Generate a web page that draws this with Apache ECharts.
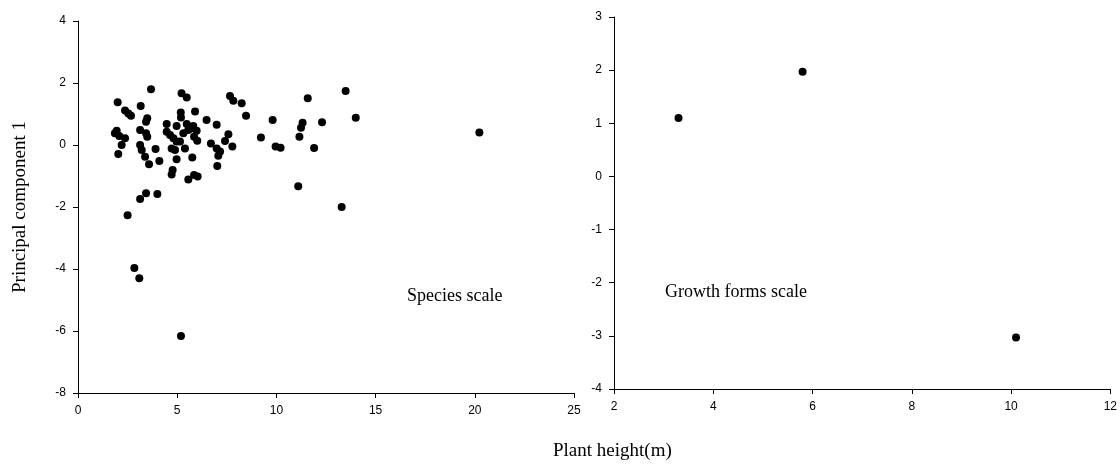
<!DOCTYPE html>
<html>
<head>
<meta charset="utf-8">
<script src="https://cdn.jsdelivr.net/npm/echarts@6/dist/echarts.min.js"></script>
<style>
  html, body { margin: 0; padding: 0; background: #fff; }
  #chart { width: 1120px; height: 464px; }
</style>
</head>
<body>
<div id="chart"></div>
<script>
// species scale: plant height (m), principal component 1
const speciesHeight = [
  2.0, 3.68, 5.22, 5.48, 7.66, 7.83, 8.25, 3.16,
  2.37, 2.54, 2.67, 3.49, 3.43, 5.18, 5.19, 5.9,
  8.47, 9.81, 6.48, 4.47, 4.97, 5.48, 5.81, 6.99,
  3.13, 1.95, 1.86, 2.08, 2.37, 3.43, 3.49,
  4.47, 4.64, 4.81, 4.97, 5.31, 5.56, 5.73, 5.98,
  5.14, 5.39, 5.85, 6.01, 7.58, 7.41, 6.7, 7.78,
  9.22, 9.96, 10.21, 6.99, 7.16, 7.07, 2.2, 2.03,
  3.13, 3.21, 3.38, 3.58, 3.91, 4.1, 4.97, 4.72, 4.89,
  5.76, 7.02, 4.77, 4.72, 5.56, 5.85, 6.03,
  3.13, 3.43, 4.0,
  11.58, 13.49, 14.0, 11.32, 11.24, 12.3, 11.16, 11.9, 20.23, 11.1, 13.29,
  2.5, 2.84, 3.09, 5.19
];
const speciesPC1 = [
  1.38, 1.8, 1.67, 1.53, 1.58, 1.43, 1.35, 1.26,
  1.11, 1.02, 0.94, 0.86, 0.75, 1.05, 0.89, 1.08,
  0.94, 0.81, 0.81, 0.68, 0.61, 0.68, 0.61, 0.65,
  0.48, 0.46, 0.38, 0.29, 0.22, 0.38, 0.27,
  0.43, 0.32, 0.22, 0.11, 0.38, 0.48, 0.54, 0.46,
  0.11, -0.11, 0.27, 0.14, 0.35, 0.13, 0.05, -0.05,
  0.24, -0.05, -0.09, -0.11, -0.21, -0.35, 0.0, -0.29,
  0.0, -0.16, -0.38, -0.62, -0.13, -0.52, -0.46, -0.11, -0.16,
  -0.4, -0.68, -0.81, -0.95, -1.11, -0.97, -1.02,
  -1.74, -1.56, -1.58,
  1.51, 1.74, 0.88, 0.72, 0.56, 0.73, 0.27, -0.1, 0.4, -1.33, -2.0,
  -2.27, -3.97, -4.3, -6.16
];

// growth forms scale
const formHeight = [3.3, 5.8, 10.1];
const formPC1 = [1.1, 1.97, -3.03];

const chart = echarts.init(document.getElementById("chart"));

const tickFont = {
  color: "#000",
  fontFamily: "Liberation Sans",
  fontSize: 12,
};
const serif = "Liberation Serif";

const axisCommon = {
  type: "value",
  splitLine: { show: false },
  axisLine: { show: true, onZero: false, lineStyle: { color: "#000", width: 1 } },
  axisTick: { show: true, length: 5, lineStyle: { color: "#000" } },
};

const option = {
  backgroundColor: "#fff",
  animation: false,
  grid: [
    { left: 78, top: 21, width: 496, height: 372 },
    { left: 614, top: 17, width: 497, height: 372 },
  ],
  xAxis: [
    {
      ...axisCommon,
      gridIndex: 0,
      min: 0,
      max: 25,
      interval: 5,
      axisLabel: { ...tickFont, margin: 12 },
    },
    {
      ...axisCommon,
      gridIndex: 1,
      min: 2,
      max: 12,
      interval: 2,
      axisLabel: { ...tickFont, margin: 12 },
    },
  ],
  yAxis: [
    {
      ...axisCommon,
      gridIndex: 0,
      min: -8,
      max: 4,
      interval: 2,
      axisLabel: { ...tickFont, margin: 12 },
      name: "Principal component 1",
      nameLocation: "middle",
      nameRotate: 90,
      nameGap: 48,
      nameTextStyle: { color: "#000", fontFamily: serif, fontSize: 19 },
    },
    {
      ...axisCommon,
      gridIndex: 1,
      min: -4,
      max: 3,
      interval: 1,
      axisLabel: { ...tickFont, margin: 12 },
    },
  ],
  graphic: [
    {
      type: "text",
      left: 407,
      top: 287,
      style: { text: "Species scale", fill: "#000", font: "18px 'Liberation Serif'" },
    },
    {
      type: "text",
      left: 665,
      top: 283,
      style: { text: "Growth forms scale", fill: "#000", font: "18px 'Liberation Serif'" },
    },
    {
      type: "text",
      left: 553,
      top: 442,
      style: { text: "Plant height(m)", fill: "#000", font: "19px 'Liberation Serif'" },
    },
  ],
  series: [
    {
      name: "Species",
      type: "scatter",
      xAxisIndex: 0,
      yAxisIndex: 0,
      symbolSize: 8,
      itemStyle: { color: "#000", opacity: 1 },
      data: speciesHeight.map((h, i) => [h, speciesPC1[i]]),
    },
    {
      name: "Growth forms",
      type: "scatter",
      xAxisIndex: 1,
      yAxisIndex: 1,
      symbolSize: 8,
      itemStyle: { color: "#000", opacity: 1 },
      data: formHeight.map((h, i) => [h, formPC1[i]]),
    },
  ],
};
chart.setOption(option);
</script>
</body>
</html>
